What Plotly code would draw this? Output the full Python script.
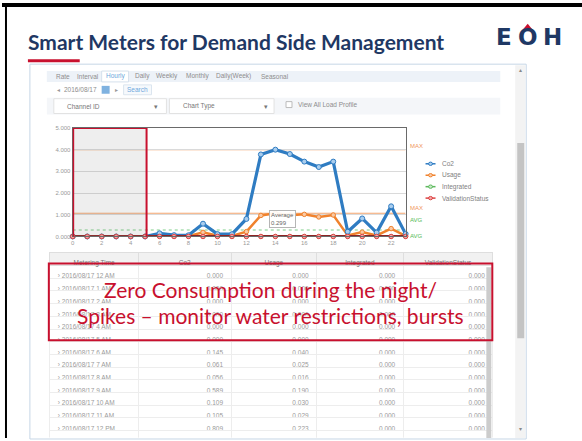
import plotly.graph_objects as go

W, H = 582, 441
def px(x): return x / W
def py(y): return 1 - y / H

# ---------------- data ----------------
hours = list(range(24))
date_str = "2016/08/17"
hour_labels = ["12 AM", "1 AM", "2 AM", "3 AM", "4 AM", "5 AM", "6 AM", "7 AM", "8 AM", "9 AM",
               "10 AM", "11 AM", "12 PM", "1 PM", "2 PM", "3 PM", "4 PM", "5 PM", "6 PM", "7 PM",
               "8 PM", "9 PM", "10 PM", "11 PM"]
co2 = [0.000, 0.000, 0.000, 0.000, 0.000, 0.000, 0.145, 0.061, 0.056, 0.589, 0.109, 0.105,
       0.809, 3.780, 4.000, 3.800, 3.450, 3.200, 3.450, 0.220, 0.830, 0.180, 1.390, 0.120]
usage = [0.000, 0.000, 0.000, 0.000, 0.000, 0.000, 0.040, 0.025, 0.016, 0.190, 0.030, 0.029,
         0.223, 0.970, 1.070, 0.980, 1.020, 0.900, 0.990, 0.050, 0.200, 0.050, 0.363, 0.030]
integrated = [0.0] * 24
validation = [0.0] * 24
x_ticks = [0, 2, 4, 6, 8, 10, 12, 14, 16, 18, 20, 22]
table_rows = 14
tabs = ["Rate", "Interval", "Hourly", "Daily", "Weekly", "Monthly", "Daily(Week)", "Seasonal"]
series_names = ["Co2", "Usage", "Integrated", "ValidationStatus"]
table_headers = ["Metering Time", "Co2", "Usage", "Integrated", "ValidationStatus"]

# ---------------- styles ----------------
C_CO2 = "#2f7cc2"
C_USAGE = "#f0822d"
C_INT = "#5cb85c"
C_VAL = "#8e2424"
C_RED = "#c8102e"
NAVY = "#1f3864"
GREY = "#8a8a8a"

fig = go.Figure()

fig.add_trace(go.Scatter(x=hours, y=integrated, mode="lines+markers", name="Integrated",
                         line=dict(color=C_INT, width=2),
                         marker=dict(size=4, color="#c8ecc8", line=dict(color=C_INT, width=1)),
                         cliponaxis=False, showlegend=False))
fig.add_trace(go.Scatter(x=hours, y=usage, mode="lines+markers", name="Usage",
                         line=dict(color=C_USAGE, width=2.5),
                         marker=dict(size=4.5, color="#f9c9a4", line=dict(color=C_USAGE, width=1)),
                         cliponaxis=False, showlegend=False))
fig.add_trace(go.Scatter(x=hours, y=co2, mode="lines+markers", name="Co2",
                         line=dict(color=C_CO2, width=3.2),
                         marker=dict(size=5, color="#a9cdee", line=dict(color=C_CO2, width=1)),
                         cliponaxis=False, showlegend=False))
fig.add_trace(go.Scatter(x=hours, y=validation, mode="lines+markers", name="ValidationStatus",
                         line=dict(color=C_VAL, width=3),
                         marker=dict(size=4.5, color="#f4a6a6", line=dict(color="#d44", width=1)),
                         cliponaxis=False, showlegend=False))

# ---- table ----
row_times = ["\u203a " + date_str + " " + h for h in hour_labels[:table_rows]]
fig.add_trace(go.Table(
    domain=dict(x=[px(48), px(493)], y=[0, py(253)]),
    columnwidth=[89, 93, 86, 87, 90],
    header=dict(values=table_headers, height=13, fill_color="#f1f1f1", line_color="#dedede",
                font=dict(family="Liberation Sans, Arial", size=6.5, color="#777"), align="center"),
    cells=dict(values=[row_times, co2[:table_rows], usage[:table_rows],
                       integrated[:table_rows], validation[:table_rows]],
               format=[None, ".3f", ".3f", ".3f", ".3f"],
               height=12.7, fill_color="white", line_color="#ededed",
               font=dict(family="Liberation Sans, Arial", size=6.5, color="#9a9a9a"),
               align=["left", "right", "right", "right", "right"]),
))

shapes = []
annots = []

def rect(x0, y0, x1, y1, fill=None, line=None, lw=1, layer="below"):
    shapes.append(dict(type="rect", xref="paper", yref="paper", x0=px(x0), x1=px(x1),
                       y0=py(y0), y1=py(y1), fillcolor=fill or "rgba(0,0,0,0)",
                       line=dict(color=line or "rgba(0,0,0,0)", width=lw if line else 0),
                       layer=layer))

def text(x, y, s, size=6.5, color=GREY, anchor="left", family="Liberation Sans, Arial", bold=False):
    if bold:
        s = "<b>" + s + "</b>"
    annots.append(dict(x=px(x), y=py(y), xref="paper", yref="paper", text=s, showarrow=False,
                       xanchor=anchor, yanchor="middle", font=dict(size=size, color=color, family=family)))

# slide frame
rect(0, 0, 582, 4, fill="#000000", layer="above")
rect(3, 0, 5, 441, fill="#000000", layer="above")

# title + logo
text(24, 39, "Smart Meters for Demand Side Management", size=21, color=NAVY,
     family="Lato, Open Sans, sans-serif", bold=True)
rect(26, 57, 78, 60, fill=C_RED)
for ch, cx in zip("EOH", [504, 527.5, 552]):
    text(cx, 34, ch, size=23, color=NAVY, anchor="center", family="DejaVu Sans", bold=True)
shapes.append(dict(type="path", xref="paper", yref="paper",
                   path=f"M {px(522.5)} {py(27)} L {px(532.5)} {py(27)} L {px(527.5)} {py(21)} Z",
                   fillcolor=C_RED, line=dict(width=0), layer="above"))

# screenshot panel
rect(28, 62, 526, 442, fill="#ffffff", line="#c6d6e6")
rect(515, 63, 525, 441, fill="#f3f3f3")
rect(517, 142, 524, 340, fill="#c4c4c4")
text(520, 68, "\u25b4", size=6, color="#888", anchor="center")
text(520, 432, "\u25be", size=6, color="#888", anchor="center")

# tab bar
rect(45, 69, 500, 80, fill="#edf2f8")
rect(100, 69, 127, 80, fill="#ffffff", line="#d5e0ec")
tab_x = [52, 73, 102, 131, 153, 183, 213, 258]
for t, tx in zip(tabs, tab_x):
    text(tx, 74.5, t, size=6.5, color="#6fa8dc" if t == "Hourly" else "#8d8d8d")

# date row
text(53, 88, "\u25c2", size=6, color="#999")
text(60, 88, date_str, size=6.5, color="#8d8d8d")
rect(100, 84, 108, 92, fill="#7fb2e0")
text(111, 88, "\u25b8", size=6, color="#999")
rect(122, 83, 150, 93, fill="#f6f9fc", line="#dbe5ef")
text(136, 88, "Search", size=6.5, color="#6fa8dc", anchor="center")

# dropdown row
rect(45, 96, 500, 113, fill="#f4f6f9")
rect(52, 97, 165, 112, fill="#ffffff", line="#e2e2e2")
text(63, 104.5, "Channel ID", size=6.5, color="#777")
text(155, 104.5, "\u25be", size=6.5, color="#777", anchor="center")
rect(168, 97, 273, 112, fill="#ffffff", line="#e2e2e2")
text(180, 104.5, "Chart Type", size=6.5, color="#777")
text(265, 104.5, "\u25be", size=6.5, color="#777", anchor="center")
rect(285, 100, 291, 106, fill="#ffffff", line="#bbbbbb")
text(295, 103, "View All Load Profile", size=6.5, color="#8d8d8d")

# chart reference lines (from data)
co2_max = max(co2)
usage_max = max(usage)
usage_avg = sum(usage) / len(usage)
for yv, col, dash in [(co2_max, "#f3a56e", "solid"), (usage_max, "#f3a56e", "solid"),
                      (usage_avg, "#7fcf8a", "dot")]:
    shapes.append(dict(type="line", xref="x", yref="y", x0=0, x1=23, y0=yv, y1=yv,
                       line=dict(color=col, width=1.2, dash=dash), layer="below"))

# highlighted night window
shapes.append(dict(type="rect", xref="x", yref="y", x0=0.03, x1=5.1, y0=-0.08, y1=5.0,
                   fillcolor="rgba(120,120,120,0.13)", line=dict(color=C_RED, width=2), layer="above"))

# MAX / AVG labels
for yv, lab, col, sh in [(co2_max, "MAX", "#f0965a", 4), (usage_max, "MAX", "#f0965a", 5),
                         (usage_avg, "AVG", "#55bb55", 10), (0, "AVG", "#55bb55", 0)]:
    annots.append(dict(x=px(407), y=yv, xref="paper", yref="y", text=lab, showarrow=False,
                       xanchor="left", yanchor="middle", yshift=sh,
                       font=dict(size=6, color=col, family="Liberation Sans, Arial")))

# Average callout
annots.append(dict(x=14.5, y=0.82, xref="x", yref="y",
                   text=f"Average<br>{usage_avg:.3f}", showarrow=False, align="left",
                   bgcolor="rgba(255,255,255,0.92)", bordercolor="#b5b5b5", borderwidth=1, borderpad=1,
                   font=dict(size=6, color="#666", family="Liberation Sans, Arial")))

# manual legend
leg_cols = [(C_CO2, "#a9cdee"), (C_USAGE, "#f9c9a4"), (C_INT, "#c8ecc8"), ("#d44", "#f4a6a6")]
for i, (nm, (lc, fc)) in enumerate(zip(series_names, leg_cols)):
    yy = 163 + 11.6 * i
    shapes.append(dict(type="line", xref="paper", yref="paper", x0=px(425), x1=px(435),
                       y0=py(yy), y1=py(yy), line=dict(color=lc, width=1.5), layer="above"))
    shapes.append(dict(type="circle", xref="paper", yref="paper", x0=px(428), x1=px(432),
                       y0=py(yy + 1.7), y1=py(yy - 1.7), fillcolor=fc, line=dict(color=lc, width=1),
                       layer="above"))
    text(440, yy, nm, size=6.5, color="#808080")

# table scrollbar + red note box
rect(486, 268, 491, 441, fill="#cccccc", layer="above")
rect(47, 264, 492, 342, line=C_RED, lw=2, layer="above")
text(269, 290, "Zero Consumption during the night/", size=21, color=C_RED, anchor="center",
     family="Lato, Open Sans, sans-serif")
text(269, 317, "Spikes \u2013 monitor water restrictions, bursts", size=21, color=C_RED, anchor="center",
     family="Lato, Open Sans, sans-serif")

fig.update_layout(
    width=W, height=H, margin=dict(l=0, r=0, t=0, b=0),
    paper_bgcolor="white", plot_bgcolor="#efefef",
    shapes=shapes, annotations=annots, showlegend=False,
    xaxis=dict(domain=[px(71), px(405)], range=[0, 23], tickvals=x_ticks,
               showgrid=False, zeroline=False, showline=True, mirror=True, linecolor="#6a6a6a",
               linewidth=1.3, ticks="", tickfont=dict(size=6, color="#9a9a9a", family="Liberation Sans, Arial")),
    yaxis=dict(domain=[py(236.7), py(126.7)], range=[0, 5], dtick=1, tickformat=".3f",
               showgrid=True, gridcolor="#dadada", zeroline=False, showline=True, mirror=True,
               linecolor="#6a6a6a", linewidth=1.3, ticks="",
               tickfont=dict(size=6, color="#9a9a9a", family="Liberation Sans, Arial")),
    font=dict(family="Liberation Sans, Arial"),
)

fig.write_html("out.html", config={"displayModeBar": False},
               post_script="document.body.style.margin='0px';document.body.style.overflow='hidden';")
